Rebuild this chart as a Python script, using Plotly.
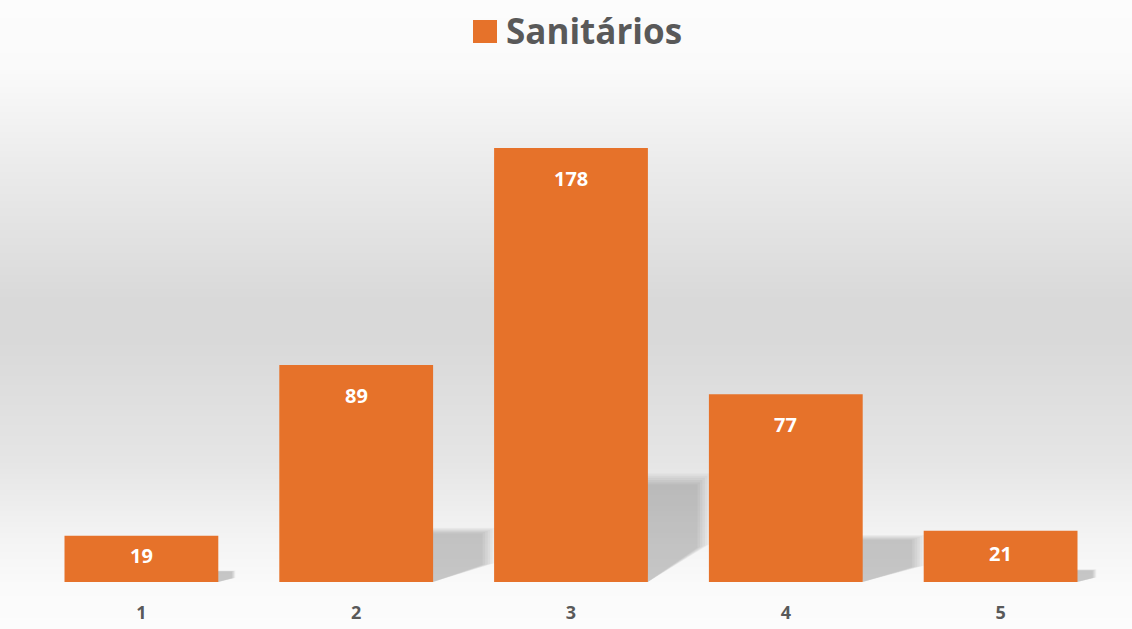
import base64, struct, zlib
import plotly.graph_objects as go

categories = ["1", "2", "3", "4", "5"]
values = [19, 89, 178, 77, 21]
series_name = "Sanitários"

W, H = 1132, 629
L, R, T, B = 34, 24, 100, 47
pw, ph = W - L - R, H - T - B
PX_PER_UNIT = (582 - 148) / 178   # vertical scale
Y_MAX = ph / PX_PER_UNIT
CAT_PX = pw / len(categories)
BARGAP = 0.284
BAR = "#E6722A"
TXT = "#595959"


def gradient_png(height, stops):
    rows = []
    for y in range(height):
        for i in range(len(stops) - 1):
            y0, c0 = stops[i]
            y1, c1 = stops[i + 1]
            if y0 <= y <= y1:
                t = (y - y0) / (y1 - y0) if y1 > y0 else 0
                g = int(round(c0 + (c1 - c0) * t))
                break
        rows.append(b"\x00" + bytes([g, g, g]))
    raw = b"".join(rows)

    def chunk(tag, data):
        c = struct.pack(">I", len(data)) + tag + data
        return c + struct.pack(">I", zlib.crc32(tag + data) & 0xFFFFFFFF)

    png = b"\x89PNG\r\n\x1a\n"
    png += chunk(b"IHDR", struct.pack(">IIBBBBB", 1, height, 8, 2, 0, 0, 0))
    png += chunk(b"IDAT", zlib.compress(raw))
    png += chunk(b"IEND", b"")
    return "data:image/png;base64," + base64.b64encode(png).decode()


bg = gradient_png(H, [(0, 252), (70, 250), (160, 236), (300, 217), (340, 217),
                      (460, 229), (540, 244), (585, 250), (628, 252)])

fig = go.Figure()
fig.add_trace(go.Bar(
    x=categories, y=values, name=series_name,
    marker=dict(color=BAR, line=dict(width=0)),
    hoverinfo="x+y",
))

# soft perspective shadows behind each bar (decoration derived from the bar values)
half = (1 - BARGAP) / 2
for i, v in enumerate(values):
    h_px = v * PX_PER_UNIT
    d = min(62, 0.37 * h_px) / CAT_PX
    top = 0.25 * v
    edge = i + half
    for shrink in (1.0, 0.96, 0.92, 0.88, 0.84, 0.8):
        t_k = top * (0.5 + 0.5 * shrink)
        dk = d * shrink
        path = (f"M {edge - 0.05} {t_k} L {edge + dk} {t_k} "
                f"L {edge + dk} {t_k * 0.35} L {edge} 0 Z")
        fig.add_shape(type="path", path=path, xref="x", yref="y", layer="below",
                      fillcolor="rgba(0,0,0,0.035)", line=dict(width=0))

for i, v in enumerate(values):
    h_px = v * PX_PER_UNIT
    fig.add_annotation(x=i, y=v, xref="x", yref="y", text=f"<b>{v}</b>",
                       showarrow=False, yshift=-min(30, h_px / 2 - 3), yanchor="middle",
                       font=dict(family="Open Sans", size=20, color="white"))

# legend-like header
fig.add_shape(type="rect", xref="paper", yref="paper",
              x0=(473 - L) / pw, x1=(497 - L) / pw,
              y0=(H - B - 43) / ph, y1=(H - B - 20) / ph,
              fillcolor=BAR, line=dict(width=0))
fig.add_annotation(xref="paper", yref="paper", x=(504 - L) / pw, y=(H - B - 30) / ph,
                   xanchor="left", yanchor="middle", showarrow=False,
                   text=f"<b>{series_name}</b>",
                   font=dict(family="Open Sans", size=35, color=TXT))

fig.add_layout_image(dict(source=bg, xref="paper", yref="paper",
                          x=-L / pw, y=1 + T / ph, sizex=W / pw, sizey=H / ph,
                          xanchor="left", yanchor="top", sizing="stretch",
                          layer="below"))

fig.update_layout(
    width=W, height=H,
    margin=dict(l=L, r=R, t=T, b=B, pad=0, autoexpand=False),
    paper_bgcolor="white", plot_bgcolor="rgba(0,0,0,0)",
    showlegend=False, bargap=BARGAP,
    xaxis=dict(type="category", range=[-0.5, len(categories) - 0.5], automargin=False,
               showgrid=False, zeroline=False, showline=False,
               ticks="outside", ticklen=14, tickcolor="rgba(0,0,0,0)",
               tickprefix="<b>", ticksuffix="</b>",
               tickfont=dict(family="Open Sans", size=18, color=TXT)),
    yaxis=dict(range=[0, Y_MAX], visible=False, showgrid=False, automargin=False),
)

fig.write_html("out.html", config={"displayModeBar": False},
               post_script="document.body.style.margin='0';document.body.style.overflow='hidden';")
